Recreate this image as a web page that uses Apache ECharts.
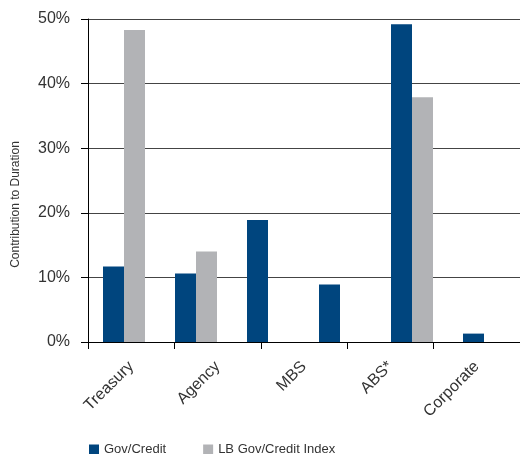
<!DOCTYPE html>
<html>
<head>
<meta charset="utf-8">
<script src="https://cdn.jsdelivr.net/npm/echarts@6/dist/echarts.min.js"></script>
<style>html,body{margin:0;padding:0;background:#fff}#c{width:520px;height:454px}</style>
</head>
<body>
<div id="c"></div>
<script>
// Bar slots (six groups drawn) and the five printed category labels
const barSlots = ['Treasury', 'Agency', 'MBS', 'ABS*', 'Group 5', 'Corporate'];
const categoryLabels = ['Treasury', 'Agency', 'MBS', 'ABS*', 'Corporate'];
const seriesNames = ['Gov/Credit', 'LB Gov/Credit Index'];
const govCredit = [11.7, 10.6, 18.9, 8.9, 49.2, 1.3];
const lbIndex = [48.3, 14.0, null, null, 37.9, null];
const yTicks = [0, 10, 20, 30, 40, 50];

const font = 'Liberation Sans, Arial, sans-serif';
const chart = echarts.init(document.getElementById('c'), null, {renderer: 'canvas'});
chart.setOption({
  animation: false,
  backgroundColor: '#ffffff',
  grid: {left: 88, top: 19, right: 0, bottom: 112, containLabel: false},
  legend: {
    left: 84, top: 438, itemWidth: 10, itemHeight: 10, itemGap: 37,
    icon: 'rect',
    textStyle: {fontFamily: font, fontSize: 13, color: '#333'},
    data: seriesNames
  },
  xAxis: [
    {
      type: 'category', data: barSlots, position: 'bottom',
      axisLine: {show: false}, axisTick: {show: false}, axisLabel: {show: false}, splitLine: {show: false}
    },
    {
      type: 'category', data: categoryLabels, position: 'bottom', boundaryGap: true,
      min: 0, max: 4,
      axisLine: {show: true, lineStyle: {color: '#000', width: 1}},
      axisTick: {show: true, length: 7, inside: false, lineStyle: {color: '#000'}},
      axisLabel: {rotate: 45, margin: 22, fontFamily: font, fontSize: 16, color: '#333'},
      splitLine: {show: false}
    }
  ],
  yAxis: {
    type: 'value', min: yTicks[0], max: yTicks[yTicks.length - 1], interval: 10,
    name: 'Contribution to Duration', nameLocation: 'middle', nameGap: 66,
    nameTextStyle: {fontFamily: font, fontSize: 12, color: '#333', padding: [0, 48, 0, 0]},
    axisLine: {show: true, lineStyle: {color: '#000'}},
    axisTick: {show: true, length: 7, lineStyle: {color: '#000'}},
    axisLabel: {formatter: '{value}%', margin: 18, fontFamily: font, fontSize: 16, color: '#333'},
    splitLine: {show: true, lineStyle: {color: '#444', width: 1}}
  },
  series: [
    {name: seriesNames[0], type: 'bar', xAxisIndex: 0, data: govCredit, barWidth: 21, barGap: '0%',
     itemStyle: {color: '#00457e'}},
    {name: seriesNames[1], type: 'bar', xAxisIndex: 0, data: lbIndex, barWidth: 21, barGap: '0%',
     itemStyle: {color: '#b2b3b6'}}
  ]
});
</script>
</body>
</html>
